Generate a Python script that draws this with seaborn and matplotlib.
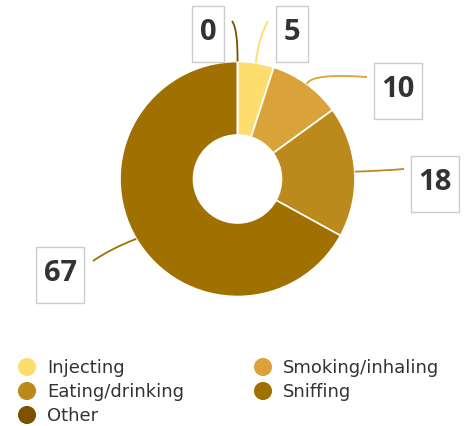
import numpy as np
import matplotlib
matplotlib.use("Agg")
import matplotlib.pyplot as plt
from matplotlib.path import Path
from matplotlib.patches import PathPatch, Rectangle
import seaborn as sns

categories = ["Injecting", "Smoking/inhaling", "Eating/drinking", "Sniffing", "Other"]
values = [5, 10, 18, 67, 0]
colors = ["#FEDD6F", "#D9A339", "#BC8A1C", "#A07000", "#7B5300"]

sns.set_theme(style="white")
plt.rcParams["font.family"] = ["Open Sans", "DejaVu Sans"]

W, H = 469, 427
fig = plt.figure(figsize=(W / 100, H / 100), dpi=100)
ax = fig.add_axes([0, 0, 1, 1])

cx, cy = 237.5, H - 180
R, r_in = 117.5, 44
ax.pie(values, colors=colors, startangle=90, counterclock=False,
       radius=R, center=(cx, cy),
       wedgeprops=dict(width=R - r_in, edgecolor="white", linewidth=1.2))
ax.set_xlim(0, W)
ax.set_ylim(0, H)
ax.set_aspect("equal")
ax.set_axis_off()

# label layout (pixel centers of boxes, top-left origin) and connector end points
label_pos = [(292, 35), (397.5, 91.5), (435, 185), (60, 275.5), (208, 35)]
conn_end = [(268, 22), (367, 78), (404, 170), (93, 262), (232, 22)]
conn_ctrl = [(258, 40), (312, 74), (380, 172), (110, 250), (238, 30)]

total = sum(values)
cum = 0
for v, col, lp, ce, cc in zip(values, colors, label_pos, conn_end, conn_ctrl):
    mid = (cum + v / 2) / total * 2 * np.pi
    cum += v
    x0 = cx + R * np.sin(mid)
    y0 = cy + R * np.cos(mid)
    verts = [(x0, y0), (cc[0], H - cc[1]), (ce[0], H - ce[1])]
    p = Path(verts, [Path.MOVETO, Path.CURVE3, Path.CURVE3])
    ax.add_patch(PathPatch(p, facecolor="none", edgecolor=col, lw=1.3, zorder=3))
    txt = f"{v}"
    bw, bh = 16 + 16 * len(txt), 56
    ax.add_patch(Rectangle((lp[0] - bw / 2, H - lp[1] - bh / 2), bw, bh,
                           facecolor="white", edgecolor="#cccccc", lw=1, zorder=4))
    ax.text(lp[0], H - lp[1] + 2, txt, ha="center", va="center",
            fontsize=21, fontweight="bold", color="#333333", zorder=5)

# legend (row-major, two columns)
leg_x = [27, 263]
leg_y = [368, 392, 416]
for i, (cat, col) in enumerate(zip(categories, colors)):
    lx = leg_x[i % 2]
    ly = H - leg_y[i // 2]
    ax.scatter([lx], [ly], s=170, color=col, edgecolor="none", zorder=5)
    ax.text(lx + 20, ly, cat, ha="left", va="center", fontsize=13,
            family=["DejaVu Sans"], color="#333333", zorder=5)

fig.savefig("out.png", dpi=100)
